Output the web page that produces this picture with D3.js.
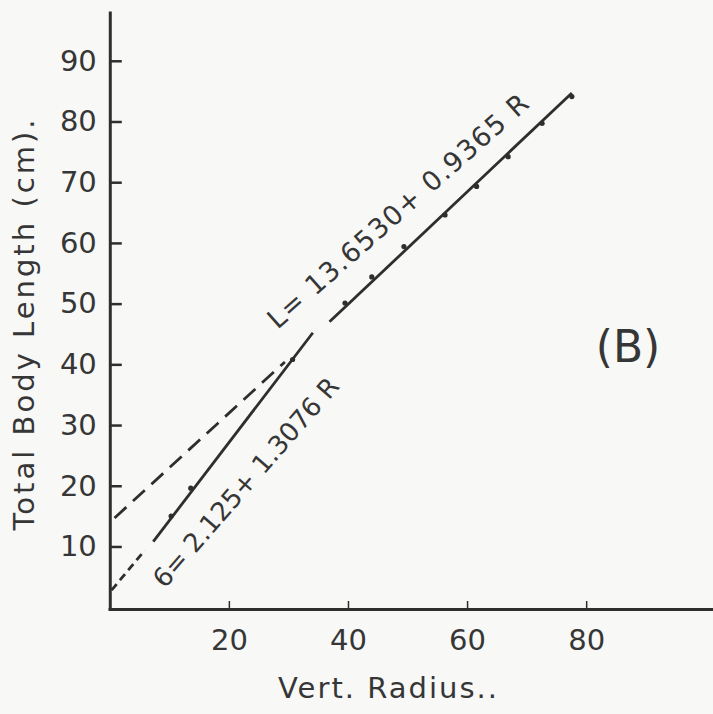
<!DOCTYPE html>
<html>
<head>
<meta charset="utf-8">
<script src="https://cdn.jsdelivr.net/npm/d3@7"></script>
<style>
	body { margin: 0; background: #f8f8f6; }
	svg { display: block; }
	text { font-family: 'DejaVu Sans', sans-serif; fill: #363636; }
</style>
</head>
<body>
<div class="chart"></div>
<script>
// tick values
const xTicks = [20, 40, 60, 80];
const yTicks = [10, 20, 30, 40, 50, 60, 70, 80, 90];

// points (R = vert. radius, L = length)
const lengthPoints = [
	{ r: 39.5, l: 50.1 },
	{ r: 44.0, l: 54.4 },
	{ r: 49.4, l: 59.4 },
	{ r: 56.3, l: 64.6 },
	{ r: 61.6, l: 69.3 },
	{ r: 66.9, l: 74.2 },
	{ r: 72.6, l: 79.7 },
	{ r: 77.6, l: 84.1 }
];
const growthPoints = [
	{ r: 10.3, l: 15.0 },
	{ r: 13.6, l: 19.6 },
	{ r: 30.7, l: 40.8 }
];

// line ends, solid part and dashed extrapolation
const lengthSolid = [{ r: 36.9, l: 47.0 }, { r: 77.6, l: 84.7 }];
const lengthDashed = [{ r: 0.8, l: 14.7 }, { r: 29.4, l: 40.4 }];
const growthSolid = [{ r: 7.3, l: 10.8 }, { r: 34.1, l: 45.2 }];
const growthDashed = [{ r: 0.3, l: 2.8 }, { r: 5.9, l: 9.4 }];

// equations
const lengthEquation = 'L= 13.6530+ 0.9365 R';
const growthEquation = '6= 2.125+ 1.3076 R';
const panelLabel = '(B)';
const xTitle = 'Vert. Radius..';
const yTitle = 'Total Body Length (cm).';

function drawChart(el) {
	const $sel = d3.select(el);
	const width = 713;
	const height = 714;
	const ink = '#2e2e2e';

	const scaleX = d3.scaleLinear().domain([-0.3, 101.3]).range([108, 713]);
	const scaleY = d3.scaleLinear().domain([-0.3, 98.2]).range([609, 11]);

	const line = d3.line()
		.x(d => scaleX(d.r))
		.y(d => scaleY(d.l));

	let $svg = null;
	let $vis = null;

	const Chart = {
		init() {
			$svg = $sel.append('svg')
				.attr('width', width)
				.attr('height', height);

			$svg.append('rect')
				.attr('width', width)
				.attr('height', height)
				.attr('fill', '#f8f8f6');

			$vis = $svg.append('g').attr('class', 'g-vis');

			Chart.axes();
			Chart.render();
		},
		axes() {
			// y axis, ticks point inward
			const $yAxis = $svg.append('g')
				.attr('class', 'g-axis y')
				.attr('transform', `translate(${scaleX(0)},0)`)
				.call(d3.axisLeft(scaleY)
					.tickValues(yTicks)
					.tickSizeInner(-12)
					.tickSizeOuter(0)
					.tickPadding(13));

			$yAxis.select('.domain').attr('stroke', ink).attr('stroke-width', 3);
			$yAxis.selectAll('.tick line').attr('stroke', ink).attr('stroke-width', 2.5);
			$yAxis.selectAll('.tick text')
				.attr('font-size', 29)
				.attr('font-family', 'DejaVu Sans')
				.attr('fill', '#363636');

			// x axis
			const $xAxis = $svg.append('g')
				.attr('class', 'g-axis x')
				.attr('transform', `translate(0,${scaleY(-0.3)})`)
				.call(d3.axisBottom(scaleX)
					.tickValues(xTicks)
					.tickSizeInner(-8)
					.tickSizeOuter(0)
					.tickPadding(20));

			$xAxis.select('.domain').attr('stroke', ink).attr('stroke-width', 3);
			$xAxis.selectAll('.tick line').attr('stroke', ink).attr('stroke-width', 1.5);
			$xAxis.selectAll('.tick text')
				.attr('font-size', 29)
				.attr('font-family', 'DejaVu Sans')
				.attr('fill', '#363636');

			// titles
			$svg.append('text')
				.attr('class', 'title-x')
				.attr('x', 278)
				.attr('y', 698)
				.attr('font-size', 29)
				.attr('textLength', 219)
				.attr('lengthAdjust', 'spacing')
				.text(xTitle);

			$svg.append('text')
				.attr('class', 'title-y')
				.attr('transform', 'translate(34,325) rotate(-90)')
				.attr('text-anchor', 'middle')
				.attr('font-size', 29)
				.attr('textLength', 411)
				.attr('lengthAdjust', 'spacing')
				.text(yTitle);
		},
		render() {
			const lines = [
				{ pts: lengthDashed, dash: '16,9' },
				{ pts: lengthSolid, dash: null },
				{ pts: growthDashed, dash: '8,5' },
				{ pts: growthSolid, dash: null }
			];

			$vis.selectAll('.fit')
				.data(lines)
				.enter()
				.append('path')
				.attr('class', 'fit')
				.attr('d', d => line(d.pts))
				.attr('fill', 'none')
				.attr('stroke', ink)
				.attr('stroke-width', 2.8)
				.attr('stroke-dasharray', d => d.dash);

			$vis.selectAll('.dot')
				.data(lengthPoints.concat(growthPoints))
				.enter()
				.append('circle')
				.attr('class', 'dot')
				.attr('cx', d => scaleX(d.r))
				.attr('cy', d => scaleY(d.l))
				.attr('r', 2.6)
				.attr('fill', ink);

			// equation labels along the lines
			const labels = [
				{ text: lengthEquation, at: { r: 49.4, l: 64.1 }, angle: -41.5, size: 27, len: 338 },
				{ text: growthEquation, at: { r: 24.0, l: 19.6 }, angle: -49, size: 26, len: 268 }
			];

			$vis.selectAll('.eq')
				.data(labels)
				.enter()
				.append('text')
				.attr('class', 'eq')
				.attr('transform', d => `translate(${scaleX(d.at.r)},${scaleY(d.at.l)}) rotate(${d.angle})`)
				.attr('text-anchor', 'middle')
				.attr('font-size', d => d.size)
				.attr('textLength', d => d.len)
				.attr('lengthAdjust', 'spacing')
				.text(d => d.text);

			$vis.append('text')
				.attr('class', 'panel')
				.attr('x', 628)
				.attr('y', 362)
				.attr('text-anchor', 'middle')
				.attr('font-size', 44)
				.text(panelLabel);
		}
	};
	Chart.init();
	return Chart;
}

drawChart(document.querySelector('.chart'));
</script>
</body>
</html>
